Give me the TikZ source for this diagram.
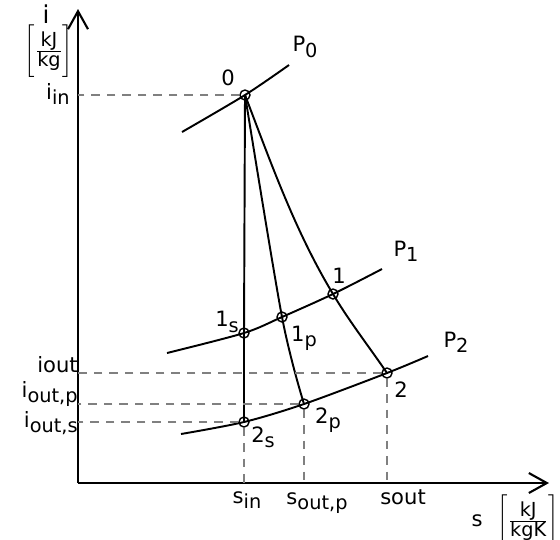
\documentclass[tikz,border=0pt]{standalone}
\usepackage{fontspec}
\setmainfont{DejaVu Sans}
\usetikzlibrary{arrows.meta}
\newcommand{\lowsub}[1]{\raisebox{-3pt}{\fontsize{11}{12}\selectfont #1}}
\newcommand{\unitfrac}[2]{$\Biggl[\frac{\mbox{\fontsize{11}{12}\selectfont #1}}{\mbox{\fontsize{11}{12}\selectfont #2}}\Biggr]$}
\tikzset{
  axis/.style={line width=1.4pt,-{Straight Barb[length=3.6mm,width=4mm,line width=1.2pt]}},
  curve/.style={line width=1.1pt},
  guide/.style={gray,line width=0.8pt,dash pattern=on 1.7mm off 1.4mm},
  pt/.style={circle,draw,line width=0.8pt,inner sep=0pt,minimum size=2mm},
  lbl/.style={inner sep=0pt,font=\fontsize{12}{14}\selectfont}
}
\begin{document}
\begin{tikzpicture}[x=0.02cm,y=-0.02cm]
  \useasboundingbox (0,0) rectangle (560,539);
  % axes
  \coordinate (o) at (78,483);
  \coordinate (itop) at (78,9);
  \coordinate (send) at (549,483);
  \draw[axis] (o) -- (itop);
  \draw[axis] (o) -- (send);
  % state points
  \node[pt] (n0) at (245,95) {};
  \node[pt] (n1s) at (244,333) {};
  \node[pt] (n1p) at (282,317) {};
  \node[pt] (n1) at (333,294) {};
  \node[pt] (n2s) at (244,422) {};
  \node[pt] (n2p) at (304,404) {};
  \node[pt] (n2) at (387,373) {};
  % isobar ends
  \coordinate (p0a) at (182,132);
  \coordinate (p0b) at (289,65);
  \coordinate (p1a) at (167,353);
  \coordinate (p1b) at (382,269);
  \coordinate (p2a) at (181,434);
  \coordinate (p2b) at (428,356);
  % isobars
  \draw[curve] plot[smooth] coordinates {(p0a) (n0.center) (p0b)};
  \draw[curve] plot[smooth] coordinates {(p1a) (n1s.center) (n1p.center) (n1.center) (p1b)};
  \draw[curve] plot[smooth] coordinates {(p2a) (n2s.center) (n2p.center) (n2.center) (p2b)};
  % expansions
  \draw[curve] (n0.center) -- (n1s.center) -- (n2s.center);
  \draw[curve] plot[smooth] coordinates {(n0.center) (n1p.center) (n2p.center)};
  \draw[curve] (n0.center) .. controls (271,163) and (295,231) .. (n1.center)
    .. controls (349,321) and (370,348) .. (n2.center);
  % guide lines
  \draw[guide] (n0) -- (n0 -| o);
  \draw[guide] (n2) -- (n2 -| o);
  \draw[guide] (n2p) -- (n2p -| o);
  \draw[guide] (n2s) -- (n2s -| o);
  \draw[guide] (n2s) -- (n2s |- o);
  \draw[guide] (n2p) -- (n2p |- o);
  \draw[guide] (n2) -- (n2 |- o);
  % point labels
  \node[lbl] (l0) at (228,78) {0};
  \node[lbl] (lp0) at (305,47) {P\lowsub{0}};
  \node[lbl] (l1) at (339,276) {1};
  \node[lbl] (lp1) at (406,251) {P\lowsub{1}};
  \node[lbl] (lp2) at (456,342) {P\lowsub{2}};
  \node[lbl] (l1s) at (227,322) {1\lowsub{s}};
  \node[lbl] (l1p) at (304,338) {1\lowsub{p}};
  \node[lbl] (l2) at (401,390) {2};
  \node[lbl] (l2p) at (328,420) {2\lowsub{p}};
  \node[lbl] (l2s) at (263,437) {2\lowsub{s}};
  % axis labels
  \node[lbl,font=\fontsize{14}{16}\selectfont] (li) at (46,14) {i};
  \node[lbl] (liu) at (49,51) {\unitfrac{kJ}{kg}};
  \node[lbl,anchor=east] (lin) at (70,94) {i\lowsub{in}};
  \node[lbl,anchor=base east] (lout) at (78,372) {iout};
  \node[lbl,anchor=east] (loutp) at (78,394) {i\lowsub{out,p}};
  \node[lbl,anchor=east] (louts) at (78,423) {i\lowsub{out,s}};
  \node[lbl] (lsin) at (247,500) {s\lowsub{in}};
  \node[lbl] (lsoutp) at (317,503) {s\lowsub{out,p}};
  \node[lbl] (lsout) at (403,497) {sout};
  \node[lbl] (ls) at (477,521) {s};
  \node[lbl,anchor=east] (lsu) at (559,521) {\unitfrac{kJ}{kgK}};
\end{tikzpicture}
\end{document}
